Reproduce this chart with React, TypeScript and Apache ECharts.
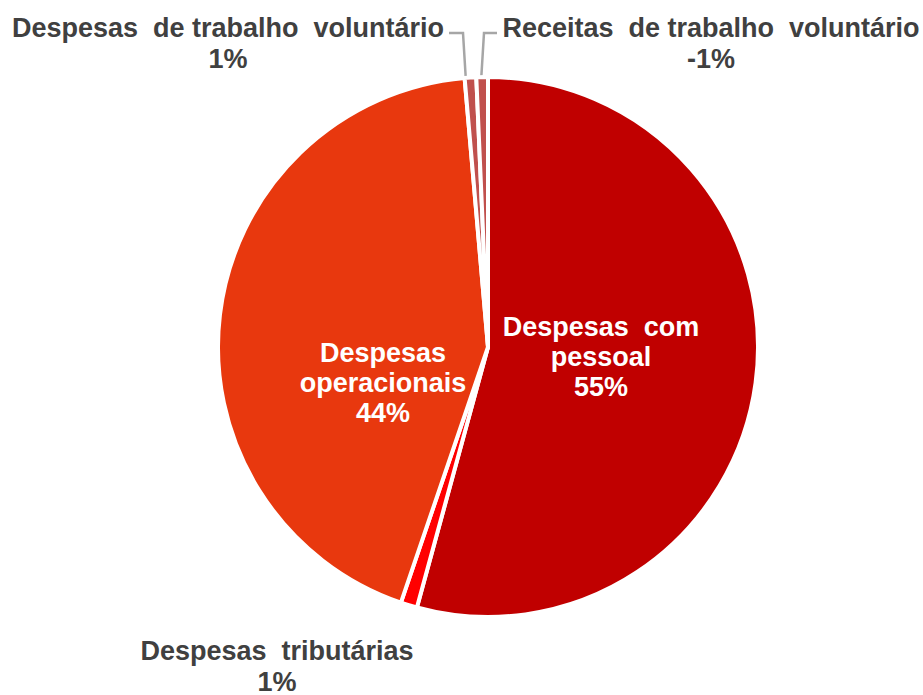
import React, { useEffect, useRef } from "react";
import * as echarts from "echarts";

const categories = [
  "Despesas com pessoal",
  "Despesas tributárias",
  "Despesas operacionais",
  "Despesas de trabalho voluntário",
  "Receitas de trabalho voluntário",
];
const labelNames = [
  "Despesas  com\npessoal",
  "Despesas  tributárias",
  "Despesas\noperacionais",
  "Despesas  de trabalho  voluntário",
  "Receitas  de trabalho  voluntário",
];
const values = [55.0, 1.0, 44.0, 0.7, -0.7];
const percentLabels = ["55%", "1%", "44%", "1%", "-1%"];
const colors = ["#C00000", "#FF0000", "#E8380E", "#C0504D", "#C0504D"];

export default function App() {
  const ref = useRef<HTMLDivElement>(null);
  useEffect(() => {
    document.body.style.margin = "0";
    const chart = echarts.init(ref.current!, undefined, { renderer: "svg" });
    const data = categories.map((name, i) => {
      const inside = i === 0 || i === 2;
      return {
        name,
        value: Math.abs(values[i]),
        itemStyle: { color: colors[i] },
        label: {
          position: inside ? "inside" : "outside",
          color: inside ? "#FFFFFF" : "#404040",
          lineHeight: inside ? 30 : 31,
          formatter: labelNames[i] + "\n" + percentLabels[i],
        },
        labelLine: { show: i === 3 || i === 4 },
      };
    });
    chart.setOption({
      animation: false,
      backgroundColor: "#FFFFFF",
      series: [
        {
          type: "pie",
          center: [488, 347],
          radius: [0, 270],
          startAngle: 90,
          clockwise: true,
          avoidLabelOverlap: false,
          itemStyle: { borderColor: "#FFFFFF", borderWidth: 4 },
          label: {
            fontFamily: "Liberation Sans, Arial, sans-serif",
            fontWeight: "bold",
            fontSize: 27,
            lineHeight: 31,
            align: "center",
          },
          labelLine: {
            show: true,
            lineStyle: { color: "#A6A6A6", width: 2.5 },
          },
          labelLayout: (p: any) => {
            switch (p.dataIndex) {
              case 0:
                return { x: 601, y: 357, align: "center", verticalAlign: "middle" };
              case 1:
                return { x: 277, y: 666, align: "center", verticalAlign: "middle" };
              case 2:
                return { x: 383, y: 383, align: "center", verticalAlign: "middle" };
              case 3:
                return {
                  x: 228,
                  y: 43,
                  align: "center",
                  verticalAlign: "middle",
                  labelLinePoints: [[449, 33], [463, 33], [466, 82]],
                };
              case 4:
                return {
                  x: 711,
                  y: 43,
                  align: "center",
                  verticalAlign: "middle",
                  labelLinePoints: [[497, 33], [484, 33], [481, 82]],
                };
            }
            return {};
          },
          data,
        },
      ],
    });
    return () => chart.dispose();
  }, []);
  return <div ref={ref} style={{ width: 923, height: 695 }} />;
}
